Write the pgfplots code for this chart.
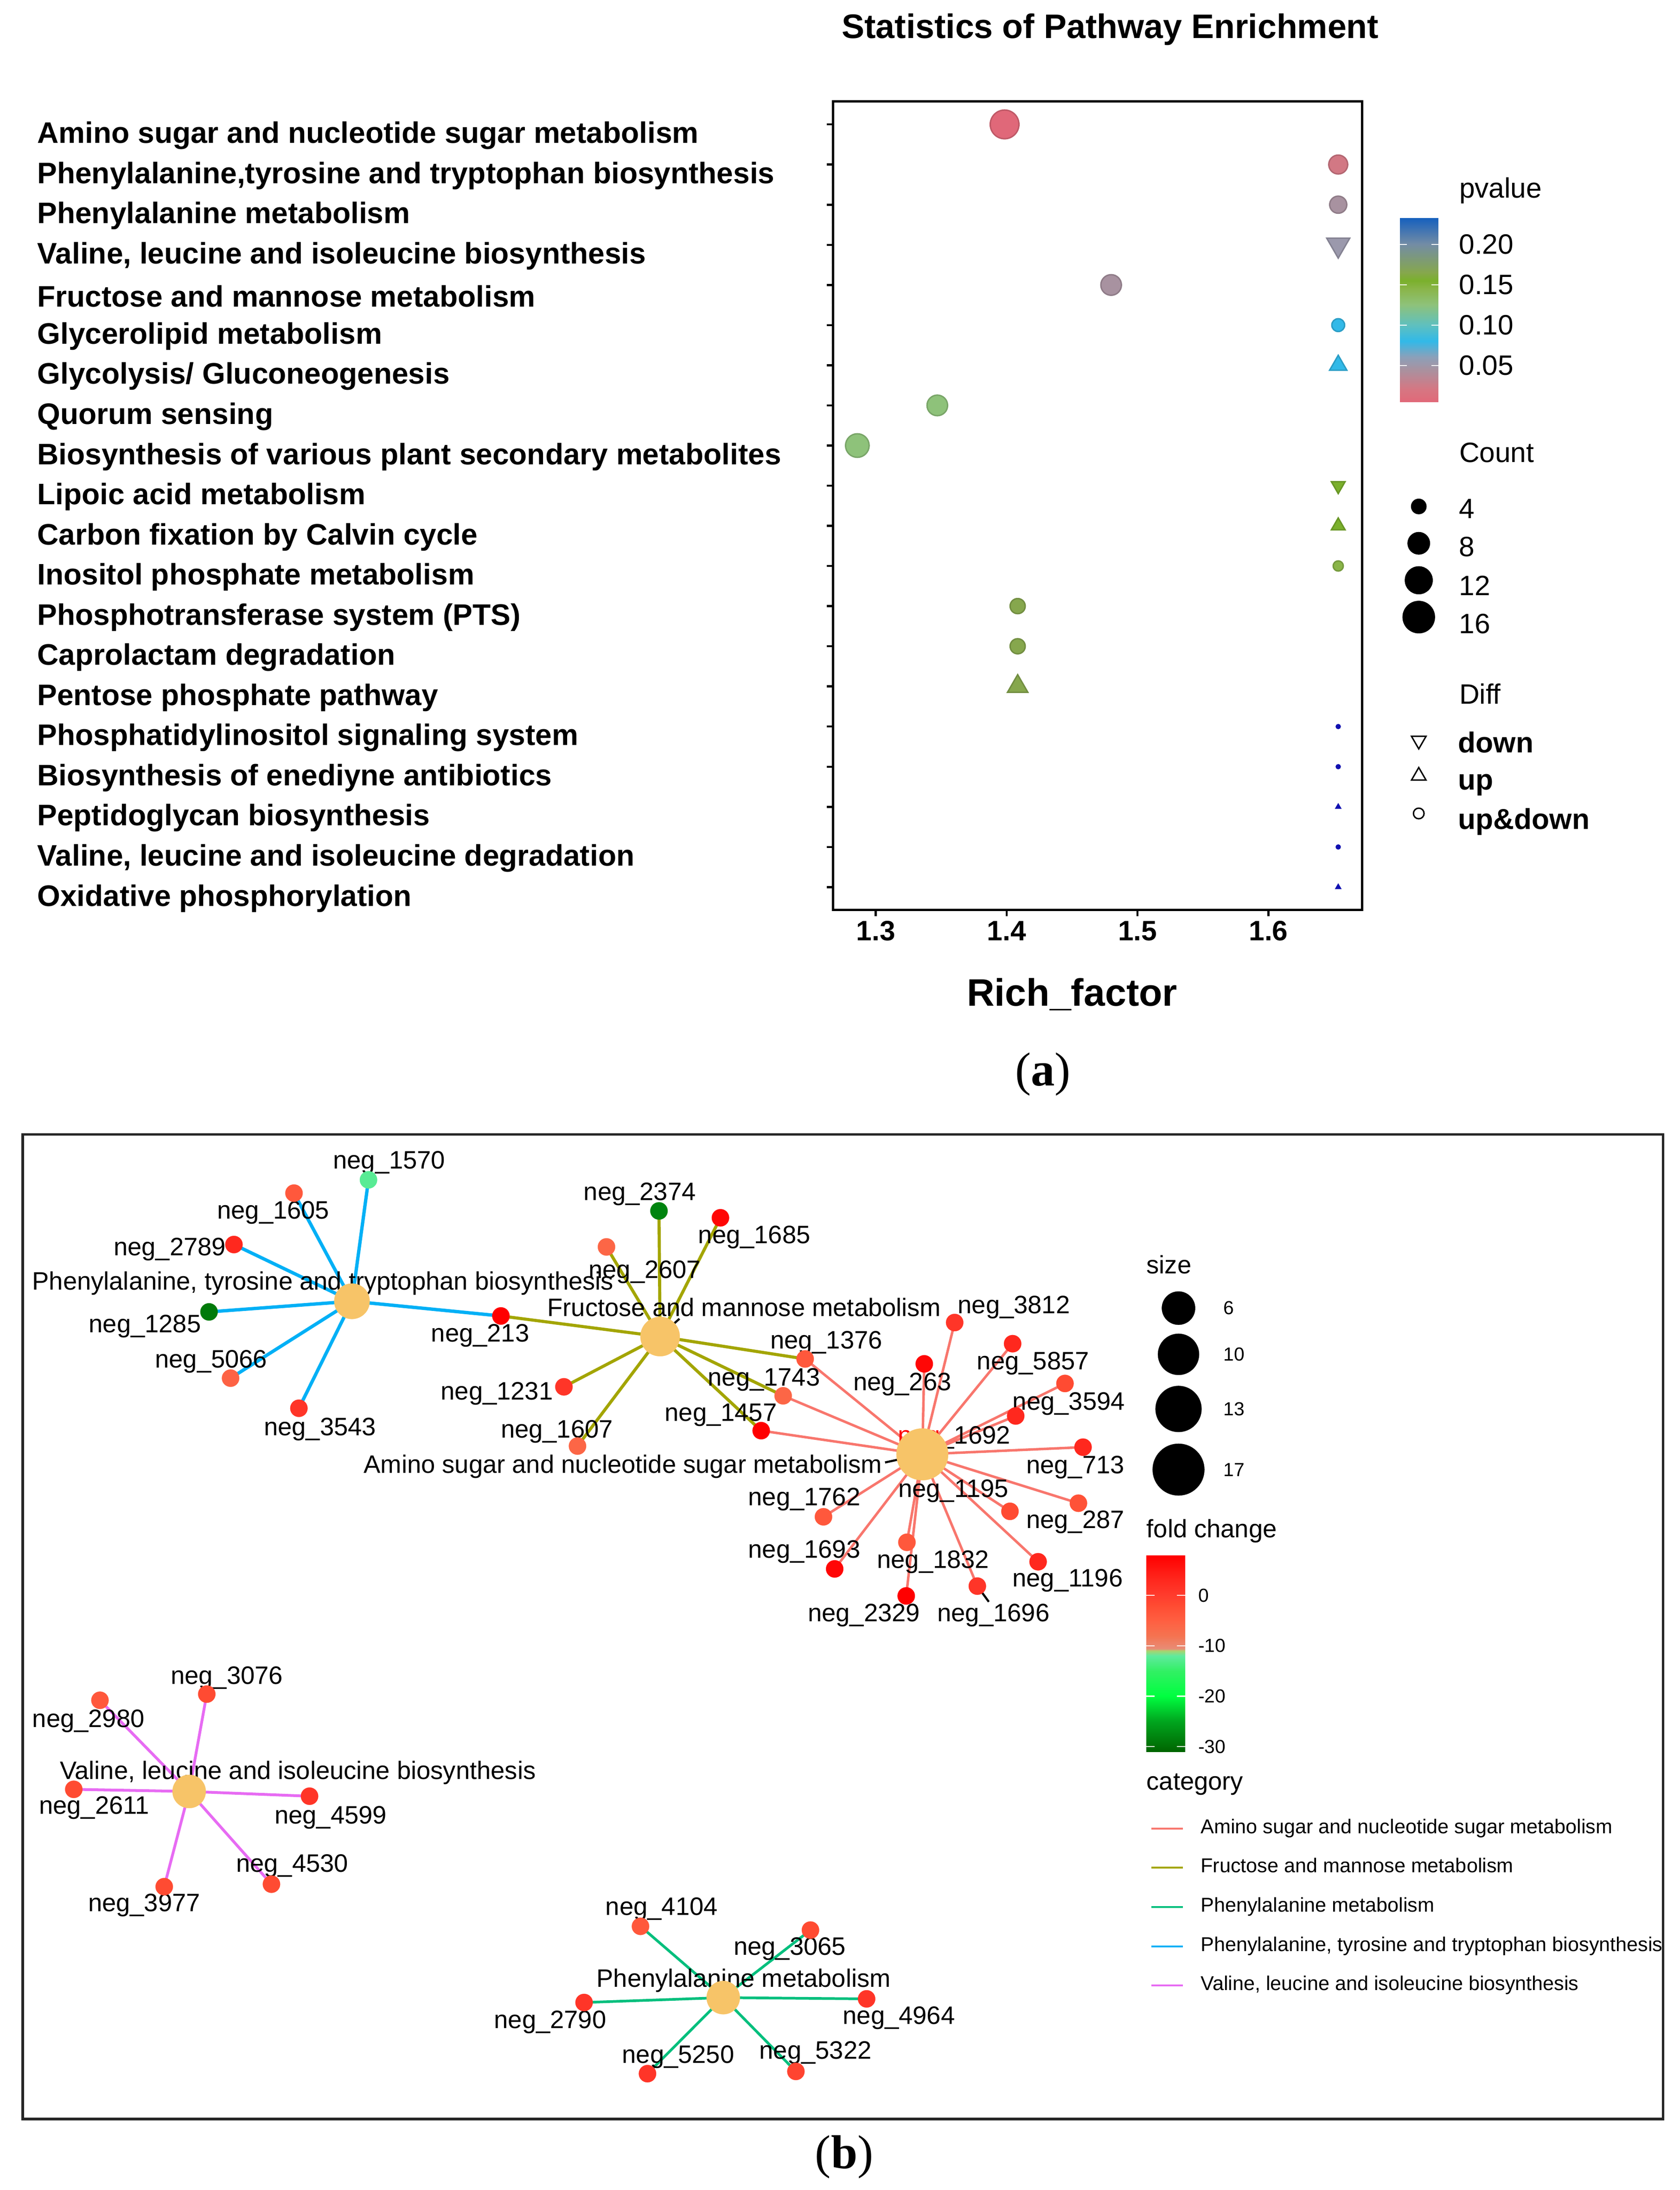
\documentclass[border=0pt]{standalone}
\usepackage{pgfplots}
\pgfplotsset{compat=1.18}
\usepackage{pgfplotstable}
\usepackage{fontspec}
\setmainfont{Liberation Sans}
\newfontfamily\seriffont{Liberation Serif}
\newcommand{\fs}[1]{\fontsize{#1}{#1}\selectfont}

\definecolor{hub}{RGB}{247,196,104}
\definecolor{cAmino}{HTML}{F8766D}
\definecolor{cFruc}{HTML}{A3A500}
\definecolor{cPhe}{HTML}{00BF7D}
\definecolor{cPTT}{HTML}{00B0F6}
\definecolor{cVal}{HTML}{E76BF3}
\definecolor{navy}{RGB}{16,16,176}

\pgfplotsset{
  colormap={pv}{[1pt] rgb255(0pt)=(228,100,118) rgb255(20pt)=(214,118,130) rgb255(45pt)=(168,146,160) rgb255(60pt)=(140,160,185) rgb255(80pt)=(50,185,232) rgb255(100pt)=(95,192,190) rgb255(125pt)=(142,194,122) rgb255(145pt)=(138,181,72) rgb255(155pt)=(122,176,44) rgb255(165pt)=(134,167,77) rgb255(200pt)=(115,140,165) rgb255(233pt)=(20,95,190)},
  colormap={fc}{[1pt] rgb255(0pt)=(0,100,0) rgb255(60pt)=(0,165,30) rgb255(110pt)=(0,255,64) rgb255(160pt)=(50,240,100) rgb255(190pt)=(96,234,158) rgb255(200pt)=(170,210,110) rgb255(204pt)=(232,140,118) rgb255(230pt)=(245,115,80) rgb255(260pt)=(255,95,65) rgb255(290pt)=(255,75,50) rgb255(310pt)=(255,60,45) rgb255(340pt)=(255,40,30) rgb255(389pt)=(255,0,0)},
}

% ---------- panel (a) data: row, Rich factor, pvalue, count ----------
\pgfplotstableread{
row x p n
1 1.3984 0.005 13
2 1.6533 0.022 6
3 1.6533 0.045 5
5 1.4798 0.045 7
6 1.6533 0.080 3
8 1.3470 0.125 7
9 1.2859 0.125 9
12 1.6533 0.145 2
13 1.4084 0.165 4
14 1.4084 0.165 4
}\circA
\pgfplotstableread{
row x p n
7 1.6533 0.080 3
11 1.6533 0.155 2
15 1.4084 0.165 4
}\upA
\pgfplotstableread{
row x p n
4 1.6533 0.052 5
10 1.6533 0.155 2
}\downA
\pgfplotstableread{
row x
16 1.6533
17 1.6533
19 1.6533
}\dotA
\pgfplotstableread{
row x
18 1.6533
20 1.6533
}\triA

% ---------- panel (b) data ----------
\pgfplotstableread{
x y fc
263.2 842.4 -12.5
210.0 851.9 -4
167.1 888.6 3
149.3 936.7 -29
164.7 984.0 -5.5
213.5 1005.5 1
357.8 939.6 7.9
470.7 864.6 -28
514.6 869.5 7
433.2 890.3 -6
402.8 990.2 1
412.5 1032.5 -6
575.1 970.3 -4
559.4 996.6 -6
543.7 1021.5 7.9
681.9 944.3 1
660.2 973.8 7
723.3 959.4 3
760.7 987.8 -2
725.5 1011.0 3
773.6 1033.3 3
770.3 1073.3 -3
721.4 1079.1 -2
588.2 1083.0 -4
647.8 1101.2 -4
596.2 1120.2 7
741.5 1115.1 3
647.3 1139.5 7.9
698.1 1132.5 1
147.7 1209.6 -2
71.4 1214.0 -4
52.7 1277.6 -2
221.1 1282.5 1
193.9 1345.3 -2
117.3 1347.1 -2
457.5 1375.4 -4
578.9 1378.1 -2
417.2 1429.8 1
619.0 1427.2 1
462.5 1480.6 1
568.5 1479.0 -1
}\leaves
\pgfplotstableread{
x y s
251.4 929.1 7
471.5 954.3 9
658.8 1038.4 17
135.1 1279.1 6
516.6 1426.3 6
}\hubs
\pgfplotstableread{
x y s
841.8 934.0 6
841.8 967.0 10
841.8 1006.0 13
841.8 1049.3 17
}\sizeleg

\newcommand{\lab}[3]{\node[font=\fs{18}, inner sep=0pt, anchor=center] at (axis cs:#1,#2) {neg\_#3};}
\newcommand{\tx}[4]{\node[font=#3, inner sep=0pt, anchor=west] at (axis cs:#1,#2) {#4};}
\newcommand{\tb}[4]{\node[font=#3, inner sep=0pt, anchor=base west] at (axis cs:#1,#2) {#4};}

\begin{document}
\begin{tikzpicture}[x=1pt,y=1pt]
\path[use as bounding box] (0pt,0pt) rectangle (1200pt,-1563.7pt);

% ================= panel (a) =================
\begin{axis}[
  at={(595pt,-649.6pt)}, anchor=south west,
  scale only axis, width=378pt, height=577.3pt,
  xmin=1.2673, xmax=1.6716, ymin=0.424, ymax=20.565, y dir=reverse,
  axis line style={line width=1.5pt, black},
  tick style={line width=1.5pt, black},
  tick align=outside, major tick length=4.5pt,
  xtick pos=bottom, ytick pos=left,
  xtick={1.3,1.4,1.5,1.6}, xticklabels={1.3,1.4,1.5,1.6},
  xticklabel style={font=\bfseries\fs{20}},
  ytick={1,...,20},
  yticklabels={Amino sugar and nucleotide sugar metabolism,
    {Phenylalanine,tyrosine and tryptophan biosynthesis},
    Phenylalanine metabolism,
    {Valine, leucine and isoleucine biosynthesis},
    Fructose and mannose metabolism,
    Glycerolipid metabolism,
    Glycolysis/ Gluconeogenesis,
    Quorum sensing,
    Biosynthesis of various plant secondary metabolites,
    Lipoic acid metabolism,
    Carbon fixation by Calvin cycle,
    Inositol phosphate metabolism,
    Phosphotransferase system (PTS),
    Caprolactam degradation,
    Pentose phosphate pathway,
    Phosphatidylinositol signaling system,
    Biosynthesis of enediyne antibiotics,
    Peptidoglycan biosynthesis,
    {Valine, leucine and isoleucine degradation},
    Oxidative phosphorylation},
  yticklabel style={font=\bfseries\fs{21.2}, anchor=west, inner sep=0pt, xshift=-564pt, yshift=-8pt},
  title={Statistics of Pathway Enrichment},
  title style={font=\bfseries\fs{24.3}, at={(axis description cs:0.524,1.0785)}, anchor=center},
  xlabel={Rich\_factor},
  xlabel style={font=\bfseries\fs{27.3}, at={(axis description cs:0.452,-0.1046)}, anchor=center},
  colormap name=pv, point meta min=0, point meta max=0.233,
  clip=false,
]
\addplot[scatter, only marks, mark=*, point meta=\thisrow{p},
  scatter/use mapped color={draw=mapped color!85!black, fill=mapped color},
  visualization depends on={(6.05*sqrt(\thisrow{n})-1.3)/2 \as \rad},
  scatter/@pre marker code/.append style={/tikz/mark size=\rad pt},
  mark options={line width=1pt}]
  table[x=x, y=row] {\circA};
\addplot[scatter, only marks, mark=triangle*, point meta=\thisrow{p},
  scatter/use mapped color={draw=mapped color!85!black, fill=mapped color},
  visualization depends on={1.555*(6.05*sqrt(\thisrow{n})-1.3)/2 \as \rad},
  scatter/@pre marker code/.append style={/tikz/mark size=\rad pt},
  mark options={line width=1pt}]
  table[x=x, y=row] {\upA};
\addplot[scatter, only marks, mark=triangle*, point meta=\thisrow{p},
  scatter/use mapped color={draw=mapped color!85!black, fill=mapped color},
  visualization depends on={1.555*(6.05*sqrt(\thisrow{n})-1.3)/2 \as \rad},
  scatter/@pre marker code/.append style={/tikz/mark size=\rad pt},
  mark options={line width=1pt, rotate=180}]
  table[x=x, y=row] {\downA};
\addplot[only marks, mark=*, mark size=1.7pt, navy] table[x=x, y=row] {\dotA};
\addplot[only marks, mark=triangle*, mark size=2.4pt, navy] table[x=x, y=row] {\triA};
\end{axis}

% pvalue colour bar
\begin{axis}[at={(999.8pt,-287pt)}, anchor=south west, scale only axis, width=27.6pt, height=131.5pt,
  xmin=0, xmax=1, ymin=0.0049, ymax=0.233, view={0}{90}, hide axis,
  colormap name=pv, point meta min=0, point meta max=0.233]
\addplot3[surf, shader=interp, point meta=y, mesh/rows=2] coordinates {(0,0.0049,0) (1,0.0049,0) (0,0.233,0) (1,0.233,0)};
\end{axis}
\begin{axis}[at={(999.8pt,-287pt)}, anchor=south west, scale only axis, width=27.6pt, height=131.5pt,
  xmin=0, xmax=1, ymin=0.0049, ymax=0.233, axis line style={draw=none}, xtick=\empty,
  ytick={0.05,0.10,0.15,0.20}, yticklabels={0.05,0.10,0.15,0.20},
  ytick pos=both, yticklabel pos=right, tick align=inside, major tick length=5pt,
  tick style={white, line width=0.8pt},
  yticklabel style={font=\fs{20}, anchor=west, inner sep=0pt, xshift=14.6pt}]
\end{axis}

% legend of panel (a), drawn in picture units
\begin{axis}[at={(0pt,0pt)}, anchor=north west, scale only axis, width=1200pt, height=1563.7pt,
  xmin=0, xmax=1200, ymin=0, ymax=1563.7, y dir=reverse, hide axis, clip=false]
\addplot[scatter, only marks, mark=*, point meta=y,
  scatter/use mapped color={draw=black, fill=black},
  visualization depends on={(6.05*sqrt(\thisrow{n})-1.3)/2 \as \rad},
  scatter/@pre marker code/.append style={/tikz/mark size=\rad pt}] table[x=x, y=y] {
x y n
1013.4 361.6 4
1013.4 387.9 8
1013.4 414.3 12
1013.4 440.6 16
};
\addplot[only marks, mark=triangle, mark size=6pt, mark options={rotate=180, line width=1pt}, black] coordinates {(1013.4,528.7)};
\addplot[only marks, mark=triangle, mark size=6pt, mark options={line width=1pt}, black] coordinates {(1013.4,554.0)};
\addplot[only marks, mark=o, mark size=3.8pt, mark options={line width=1pt}, black] coordinates {(1013.4,580.8)};
\tb{1042.2}{141.3}{\fs{20}}{pvalue}
\tb{1042.2}{330.1}{\fs{20}}{Count}
\tb{1042.0}{370.1}{\fs{20}}{4}
\tb{1042.0}{397.4}{\fs{20}}{8}
\tb{1042.0}{425.0}{\fs{20}}{12}
\tb{1042.0}{452.2}{\fs{20}}{16}
\tb{1042.2}{502.7}{\fs{20}}{Diff}
\tb{1041.4}{537.4}{\bfseries\fs{20.6}}{down}
\tb{1041.4}{564.0}{\bfseries\fs{20.6}}{up}
\tb{1041.4}{592.0}{\bfseries\fs{20.6}}{up\&down}
\node[font=\seriffont\fs{34}, inner sep=0pt] at (axis cs:745,767) {(\textbf{a})};
\node[font=\seriffont\fs{34}, inner sep=0pt] at (axis cs:603,1540) {(\textbf{b})};
\end{axis}

% ================= panel (b) =================
\begin{axis}[at={(16.3pt,-1513pt)}, anchor=south west, scale only axis, width=1171.7pt, height=703pt,
  xmin=16.3, xmax=1188, ymin=810, ymax=1513, y dir=reverse,
  xtick=\empty, ytick=\empty, axis line style={line width=1.8pt, black!85},
  clip=false, colormap name=fc, point meta min=-31, point meta max=7.92,
  legend style={at={(axis cs:821.4,1298.3)}, anchor=north west, draw=none, fill=none,
    font=\fs{14.3}, inner sep=0pt, row sep=14.05pt,
    nodes={inner sep=0pt, text height=10.5pt, text depth=3.5pt},
    /tikz/every odd column/.append style={column sep=12pt}},
  legend cell align=left,
  legend image code/.code={\draw[#1, line width=1.3pt] (0pt,0pt) -- (22.8pt,0pt);},
]
\addplot[cAmino, line width=1.8pt, line join=round] coordinates {
 (575.1,970.3) (658.8,1038.4) (559.4,996.6) (658.8,1038.4) (543.7,1021.5) (658.8,1038.4)
 (681.9,944.3) (658.8,1038.4) (660.2,973.8) (658.8,1038.4) (723.3,959.4) (658.8,1038.4)
 (760.7,987.8) (658.8,1038.4) (725.5,1011.0) (658.8,1038.4) (773.6,1033.3) (658.8,1038.4)
 (770.3,1073.3) (658.8,1038.4) (721.4,1079.1) (658.8,1038.4) (588.2,1083.0) (658.8,1038.4)
 (647.8,1101.2) (658.8,1038.4) (596.2,1120.2) (658.8,1038.4) (741.5,1115.1) (658.8,1038.4)
 (647.3,1139.5) (658.8,1038.4) (698.1,1132.5)};
\addlegendentry{Amino sugar and nucleotide sugar metabolism}
\addplot[cFruc, line width=2.2pt, line join=round] coordinates {
 (357.8,939.6) (471.5,954.3) (470.7,864.6) (471.5,954.3) (514.6,869.5) (471.5,954.3)
 (433.2,890.3) (471.5,954.3) (402.8,990.2) (471.5,954.3) (412.5,1032.5) (471.5,954.3)
 (575.1,970.3) (471.5,954.3) (559.4,996.6) (471.5,954.3) (543.7,1021.5)};
\addlegendentry{Fructose and mannose metabolism}
\addplot[cPhe, line width=1.9pt, line join=round] coordinates {
 (457.5,1375.4) (516.6,1426.3) (578.9,1378.1) (516.6,1426.3) (417.2,1429.8) (516.6,1426.3)
 (619.0,1427.2) (516.6,1426.3) (462.5,1480.6) (516.6,1426.3) (568.5,1479.0)};
\addlegendentry{Phenylalanine metabolism}
\addplot[cPTT, line width=2.4pt, line join=round] coordinates {
 (263.2,842.4) (251.4,929.1) (210.0,851.9) (251.4,929.1) (167.1,888.6) (251.4,929.1)
 (149.3,936.7) (251.4,929.1) (164.7,984.0) (251.4,929.1) (213.5,1005.5) (251.4,929.1)
 (357.8,939.6)};
\addlegendentry{Phenylalanine, tyrosine and tryptophan biosynthesis}
\addplot[cVal, line width=2.0pt, line join=round] coordinates {
 (147.7,1209.6) (135.1,1279.1) (71.4,1214.0) (135.1,1279.1) (52.7,1277.6) (135.1,1279.1)
 (221.1,1282.5) (135.1,1279.1) (193.9,1345.3) (135.1,1279.1) (117.3,1347.1)};
\addlegendentry{Valine, leucine and isoleucine biosynthesis}

% metabolite nodes coloured by fold change
\addplot[forget plot, scatter, only marks, mark=*, mark size=6.2pt, point meta=\thisrow{fc},
  scatter/use mapped color={draw=mapped color, fill=mapped color}, mark options={line width=0.1pt}] table[x=x, y=y] {\leaves};
% pathway hubs sized by size
\addplot[forget plot, scatter, only marks, mark=*, point meta=y,
  scatter/use mapped color={draw=hub, fill=hub}, mark options={line width=0.1pt},
  visualization depends on={(7.886*sqrt(\thisrow{s})+4.49)/2 \as \rad},
  scatter/@pre marker code/.append style={/tikz/mark size=\rad pt}] table[x=x, y=y] {\hubs};
% size legend
\addplot[forget plot, scatter, only marks, mark=*, point meta=y,
  scatter/use mapped color={draw=black, fill=black}, mark options={line width=0.1pt},
  visualization depends on={(7.886*sqrt(\thisrow{s})+4.49)/2 \as \rad},
  scatter/@pre marker code/.append style={/tikz/mark size=\rad pt}] table[x=x, y=y] {\sizeleg};
% label leader segments
\addplot[forget plot, black, line width=1.5pt] coordinates {(472,953.5) (485.3,941.6)};
\addplot[forget plot, black, line width=1.5pt] coordinates {(658.8,1038.4) (632.2,1044.2)};
\addplot[forget plot, black, line width=1.5pt] coordinates {(698.1,1132.5) (706.3,1143.7)};

% node labels
\lab{278.0}{830.2}{1570}
\lab{195.2}{865.7}{1605}
\lab{121.3}{891.9}{2789}
\lab{103.5}{946.9}{1285}
\lab{150.8}{972.2}{5066}
\lab{228.6}{1020.4}{3543}
\lab{343.0}{953.6}{213}
\lab{457.0}{852.5}{2374}
\lab{538.8}{883.4}{1685}
\lab{460.5}{908.3}{2607}
\lab{354.9}{995.0}{1231}
\lab{397.8}{1022.1}{1607}
\lab{590.2}{958.7}{1376}
\lab{545.7}{985.0}{1743}
\lab{514.9}{1010.5}{1457}
\lab{724.2}{933.4}{3812}
\lab{737.9}{973.4}{5857}
\lab{644.5}{988.5}{263}
\lab{763.4}{1002.4}{3594}
\node[font=\fs{18}, inner sep=0pt, anchor=center] at (axis cs:681.6,1026.4) {\textcolor{red}{neg}\_1692};
\lab{768.1}{1047.7}{713}
\lab{574.5}{1070.5}{1762}
\lab{681.0}{1064.5}{1195}
\lab{768.1}{1086.8}{287}
\lab{574.5}{1108.1}{1693}
\lab{666.5}{1115.1}{1832}
\lab{762.6}{1128.6}{1196}
\lab{617.1}{1153.4}{2329}
\lab{709.6}{1153.4}{1696}
\lab{162.0}{1198.0}{3076}
\lab{63.2}{1228.8}{2980}
\lab{67.3}{1290.9}{2611}
\lab{236.2}{1297.6}{4599}
\lab{208.7}{1332.3}{4530}
\lab{103.0}{1360.4}{3977}
\lab{472.6}{1363.0}{4104}
\lab{564.1}{1391.5}{3065}
\lab{393.0}{1443.7}{2790}
\lab{642.1}{1440.8}{4964}
\lab{484.4}{1468.7}{5250}
\lab{582.5}{1465.8}{5322}
% pathway labels
\node[font=\fs{18}, inner sep=0pt] at (axis cs:230.7,916.4) {Phenylalanine, tyrosine and tryptophan biosynthesis};
\node[font=\fs{18}, inner sep=0pt] at (axis cs:531.6,933.4) {Fructose and mannose metabolism};
\node[font=\fs{18}, inner sep=0pt, anchor=west] at (axis cs:259.7,1047.0) {Amino sugar and nucleotide sugar metabolism};
\node[font=\fs{18}, inner sep=0pt] at (axis cs:212.8,1265.8) {Valine, leucine and isoleucine biosynthesis};
\node[font=\fs{18}, inner sep=0pt] at (axis cs:531.2,1414.1) {Phenylalanine metabolism};
% legend titles
\tx{818.8}{903.0}{\fs{18}}{size}
\tx{873.8}{934.0}{\fs{13.5}}{6}
\tx{873.8}{967.0}{\fs{13.5}}{10}
\tx{873.8}{1006.0}{\fs{13.5}}{13}
\tx{873.8}{1049.3}{\fs{13.5}}{17}
\tx{818.8}{1093.3}{\fs{18}}{fold change}
\tx{818.8}{1273.9}{\fs{18}}{category}
\end{axis}

% fold change colour bar
\begin{axis}[at={(818.8pt,-1250.7pt)}, anchor=south west, scale only axis, width=27.9pt, height=140.1pt,
  xmin=0, xmax=1, ymin=-31.0, ymax=7.92, view={0}{90}, hide axis,
  colormap name=fc, point meta min=-31.0, point meta max=7.92]
\addplot3[surf, shader=interp, point meta=y, mesh/rows=2] coordinates {(0,-31,0) (1,-31,0) (0,7.92,0) (1,7.92,0)};
\end{axis}
\begin{axis}[at={(818.8pt,-1250.7pt)}, anchor=south west, scale only axis, width=27.9pt, height=140.1pt,
  xmin=0, xmax=1, ymin=-31.0, ymax=7.92, axis line style={draw=none}, xtick=\empty,
  ytick={-30,-20,-10,0}, yticklabels={-30,-20,-10,0},
  ytick pos=both, yticklabel pos=right, tick align=inside, major tick length=6pt,
  tick style={white, line width=0.8pt},
  yticklabel style={font=\fs{13.5}, anchor=west, inner sep=0pt, xshift=9pt}]
\end{axis}
\end{tikzpicture}
\end{document}
